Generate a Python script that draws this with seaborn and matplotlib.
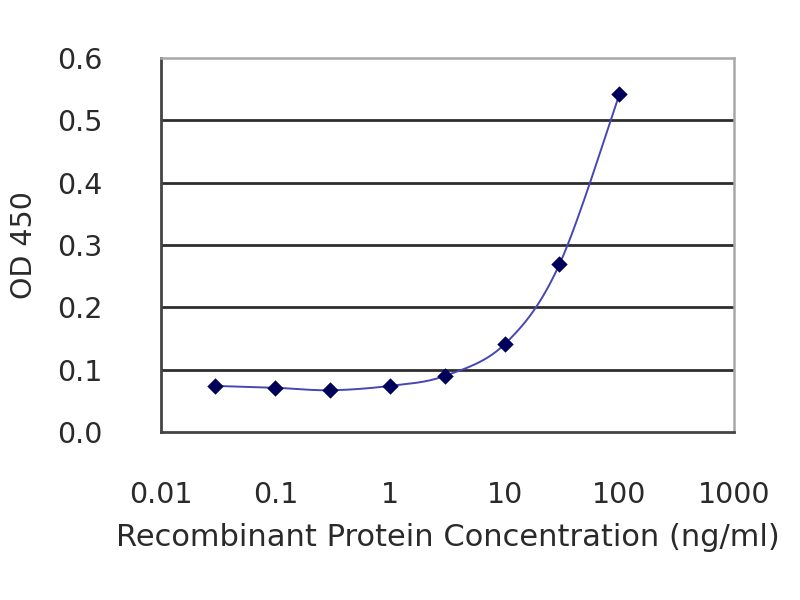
import numpy as np
import pandas as pd
import matplotlib
matplotlib.use("Agg")
import matplotlib.pyplot as plt
import seaborn as sns

# Data
concentration = [0.03, 0.1, 0.3, 1, 3, 10, 30, 100]
od450 = [0.074, 0.071, 0.067, 0.074, 0.090, 0.141, 0.269, 0.542]
x_ticks = [0.01, 0.1, 1, 10, 100, 1000]
x_tick_labels = ["0.01", "0.1", "1", "10", "100", "1000"]
y_ticks = [0.0, 0.1, 0.2, 0.3, 0.4, 0.5, 0.6]
y_tick_labels = ["0.0", "0.1", "0.2", "0.3", "0.4", "0.5", "0.6"]

sns.set_style("white")
plt.rcParams["font.family"] = ["DejaVu Sans"]

df = pd.DataFrame({"conc": concentration, "od": od450})

# Smoothed connecting line (Catmull-Rom in log-x display space, like a spreadsheet smoothed line)
lx = np.log10(np.array(concentration, dtype=float))
ly = np.array(od450, dtype=float)
P = np.column_stack([lx, ly])
Pext = np.vstack([P[0], P, P[-1]])
seg = []
t = np.linspace(0, 1, 30)
for i in range(len(P) - 1):
    p0, p1, p2, p3 = Pext[i], Pext[i + 1], Pext[i + 2], Pext[i + 3]
    c1 = p1 + (p2 - p0) / 6.0
    c2 = p2 - (p3 - p1) / 6.0
    tt = t[:, None]
    b = ((1 - tt) ** 3) * p1 + 3 * ((1 - tt) ** 2) * tt * c1 + 3 * (1 - tt) * tt ** 2 * c2 + tt ** 3 * p2
    seg.append(b if i == 0 else b[1:])
curve = np.vstack(seg)
curve_df = pd.DataFrame({"conc": 10 ** curve[:, 0], "od": curve[:, 1]})

fig = plt.figure(figsize=(8, 6), dpi=100)
ax = fig.add_axes([0.201, 0.28, 0.7165, 0.623])
ax.set_xscale("log")

for yv in y_ticks[1:-1]:
    ax.axhline(yv, color="#2e2e2e", lw=2.0, zorder=1)

sns.lineplot(data=curve_df, x="conc", y="od", sort=False, estimator=None,
             color="#4646b4", lw=1.4, ax=ax, zorder=2)
sns.scatterplot(data=df, x="conc", y="od", marker="D", s=70, color="#00005a",
                edgecolor="#00005a", linewidth=0, ax=ax, zorder=3)

ax.set_xlim(0.01, 1000)
ax.set_ylim(0, 0.6)
ax.set_xticks(x_ticks)
ax.set_xticklabels(x_tick_labels)
ax.set_yticks(y_ticks)
ax.set_yticklabels(y_tick_labels)
ax.minorticks_off()
ax.tick_params(axis="x", direction="in", length=4, width=1.5, color="#555555",
               labelsize=20.5, pad=35, labelcolor="#2a2a2a")
ax.tick_params(axis="y", length=0, labelsize=20.5, pad=42, labelcolor="#2a2a2a")

for side in ["left", "bottom"]:
    ax.spines[side].set_color("#444444")
    ax.spines[side].set_linewidth(2)
for side in ["top", "right"]:
    ax.spines[side].set_color("#a8a8a8")
    ax.spines[side].set_linewidth(1.8)

ax.set_xlabel("Recombinant Protein Concentration (ng/ml)", fontsize=22, color="#2a2a2a", labelpad=10)
ax.set_ylabel("OD 450", fontsize=20.5, color="#2a2a2a", labelpad=14)

fig.savefig("out.png", dpi=100)
